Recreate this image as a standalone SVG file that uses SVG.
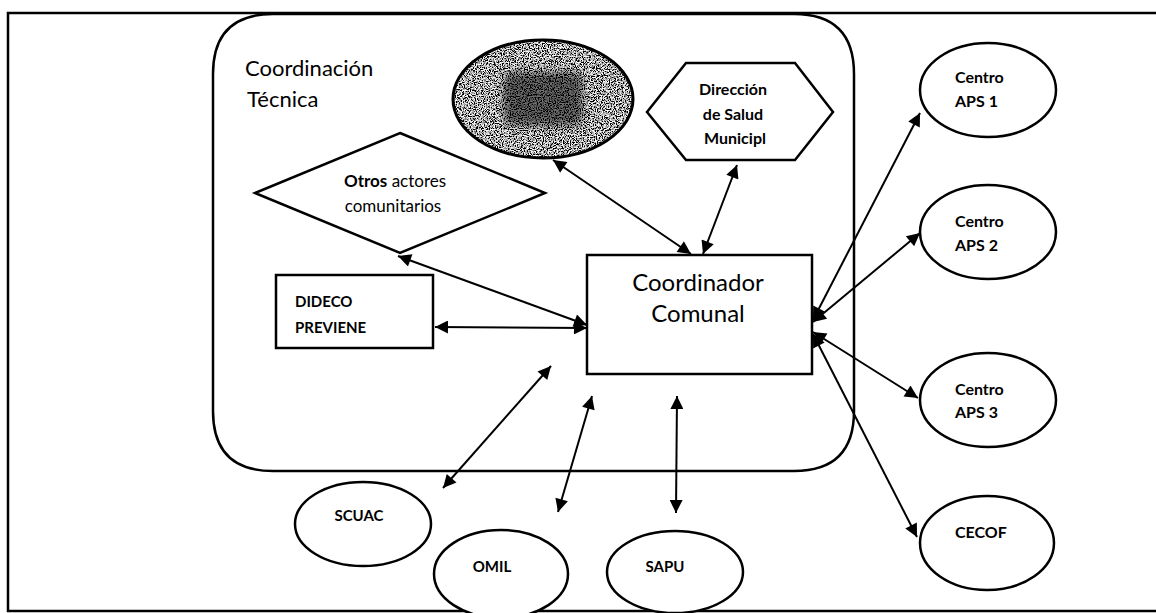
<svg xmlns="http://www.w3.org/2000/svg" width="1156" height="613" viewBox="0 0 1156 613">
<style>
.n{fill:#fff;stroke:#000;stroke-width:2.5}
.t{font-family:Lato,"Open Sans",sans-serif;fill:#000}
.b{font-weight:bold}
.c{stroke:#000;stroke-width:2;fill:none;marker-start:url(#ah);marker-end:url(#ah)}
</style>
<defs>
<marker id="ah" viewBox="0 0 10 10" refX="10" refY="5" markerWidth="16" markerHeight="13" markerUnits="userSpaceOnUse" orient="auto-start-reverse">
<path d="M0,0 L10,5 L0,10 z" fill="#000"/>
</marker>
<filter id="noise" x="0" y="0" width="100%" height="100%">
<feTurbulence type="fractalNoise" baseFrequency="0.85" numOctaves="2" seed="5"/>
<feColorMatrix type="matrix" values="4 0 0 0 -1.6  4 0 0 0 -1.6  4 0 0 0 -1.6  0 0 0 0 1"/>
<feComposite in2="SourceGraphic" operator="in"/>
</filter>
<filter id="soft" x="-20%" y="-50%" width="140%" height="200%">
<feGaussianBlur stdDeviation="4"/>
</filter>
</defs>
<rect width="1156" height="613" fill="#fff"/>
<g id="frame">
<path d="M1156,13 L8,13 L8,611 L1156,611" fill="none" stroke="#000" stroke-width="2.5"/>
</g>
<g id="coordinacion-tecnica">
<path d="M273,14 L794,14 Q854,14 854,74 L854,411 Q854,471 794,471 L273,471 Q213,471 213,411 L213,74 Q213,14 273,14 Z" fill="none" stroke="#000" stroke-width="2.5"/>
<text class="t" x="245" y="76" font-size="22">Coordinación</text>
<text class="t" x="247" y="107" font-size="22">Técnica</text>
</g>
<g id="dark-ellipse">
<ellipse cx="543" cy="99" rx="90" ry="59" fill="#7a7a7a"/>
<ellipse cx="543" cy="99" rx="89" ry="58" fill="#fff" filter="url(#noise)"/>
<rect x="503" y="72" width="80" height="54" rx="10" fill="#000" opacity="0.55" filter="url(#soft)"/>
<ellipse cx="543" cy="99" rx="90" ry="59" fill="none" stroke="#000" stroke-width="3"/>
</g>
<g id="direccion-salud">
<polygon class="n" points="647,112 686,63 795,63 833,112 795,160 686,160"/>
<text class="t b" x="733" y="95" font-size="16" text-anchor="middle">Dirección</text>
<text class="t b" x="733" y="120" font-size="16" text-anchor="middle">de Salud</text>
<text class="t b" x="735" y="144" font-size="16" text-anchor="middle">Municipl</text>
</g>
<g id="otros-actores">
<polygon class="n" points="400,133 545,193 400,253 255,193"/>
<text class="t" x="395" y="187" font-size="17" text-anchor="middle"><tspan class="b">Otros</tspan> actores</text>
<text class="t" x="393" y="212" font-size="17" text-anchor="middle">comunitarios</text>
</g>
<g id="dideco">
<rect class="n" x="276" y="275" width="157" height="73"/>
<text class="t b" x="295" y="307" font-size="15">DIDECO</text>
<text class="t b" x="295" y="333" font-size="15">PREVIENE</text>
</g>
<g id="coordinador">
<rect class="n" x="587" y="255" width="225" height="119"/>
<text class="t" x="698" y="291" font-size="24" text-anchor="middle">Coordinador</text>
<text class="t" x="698" y="322" font-size="24" text-anchor="middle">Comunal</text>
</g>
<g id="aps1">
<ellipse class="n" cx="988" cy="90" rx="68" ry="47"/>
<text class="t b" x="955" y="83" font-size="16">Centro</text>
<text class="t b" x="955" y="107" font-size="16">APS 1</text>
</g>
<g id="aps2">
<ellipse class="n" cx="988" cy="232" rx="68" ry="47"/>
<text class="t b" x="955" y="227" font-size="16">Centro</text>
<text class="t b" x="955" y="251" font-size="16">APS 2</text>
</g>
<g id="aps3">
<ellipse class="n" cx="988" cy="400" rx="68" ry="47"/>
<text class="t b" x="955" y="395" font-size="16">Centro</text>
<text class="t b" x="955" y="418" font-size="16">APS 3</text>
</g>
<g id="cecof">
<ellipse class="n" cx="987" cy="543" rx="67" ry="47"/>
<text class="t b" x="955" y="538" font-size="16">CECOF</text>
</g>
<g id="scuac">
<ellipse class="n" cx="363" cy="524" rx="68" ry="42"/>
<text class="t b" x="359" y="521" font-size="15" text-anchor="middle">SCUAC</text>
</g>
<g id="omil">
<ellipse class="n" cx="501" cy="574" rx="67" ry="44"/>
<text class="t b" x="492" y="572" font-size="15" text-anchor="middle">OMIL</text>
</g>
<g id="sapu">
<ellipse class="n" cx="675" cy="572" rx="68" ry="41"/>
<text class="t b" x="665" y="572" font-size="15" text-anchor="middle">SAPU</text>
</g>
<g id="connectors">
<line class="c" x1="553" y1="160" x2="691" y2="254"/>
<line class="c" x1="737" y1="165" x2="703" y2="254"/>
<line class="c" x1="398" y1="256" x2="587" y2="325"/>
<line class="c" x1="435" y1="327" x2="587" y2="328"/>
<line class="c" x1="813" y1="320" x2="920" y2="113"/>
<line class="c" x1="813" y1="322" x2="920" y2="233"/>
<line class="c" x1="813" y1="332" x2="918" y2="398"/>
<line class="c" x1="813" y1="334" x2="917" y2="537"/>
<line class="c" x1="443" y1="488" x2="551" y2="366"/>
<line class="c" x1="558" y1="512" x2="592" y2="396"/>
<line class="c" x1="676" y1="513" x2="677" y2="396"/>
</g>
</svg>
